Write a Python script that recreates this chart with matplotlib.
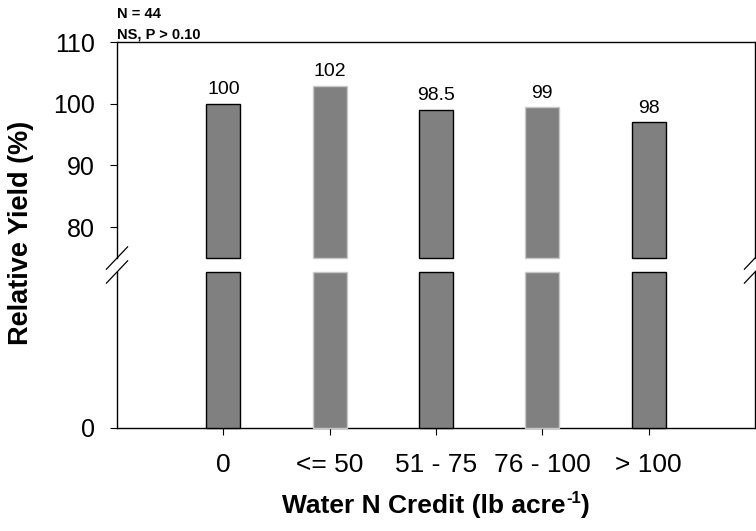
import numpy as np
import matplotlib
matplotlib.use("Agg")
import matplotlib.pyplot as plt
from matplotlib.lines import Line2D

plt.rcParams.update({
    "font.family": "Liberation Sans",
    "axes.linewidth": 1.0,
    "xtick.direction": "out",
    "ytick.direction": "out",
})

# ---- data ----
categories = ["0", "<= 50", "51 - 75", "76 - 100", "> 100"]
rel_yield = [100.0, 102.9, 99.0, 99.4, 97.0]
bar_labels = ["100", "102", "98.5", "99", "98"]
outlined = [True, False, True, False, True]

BAR = "#808080"
SOFT_EDGE = "#c8c8c8"
UP_LO, UP_HI = 75, 110
LOW_HI = 50

W, H = 756, 531
x = np.arange(1, len(categories) + 1)
edges = ["black" if o else SOFT_EDGE for o in outlined]

fig = plt.figure(figsize=(W / 100, H / 100), dpi=100)
ax_up = fig.add_axes([0.1548, 0.5141, 0.8439, 0.4068])
ax_lo = fig.add_axes([0.1548, 0.1940, 0.8439, 0.2938])

# upper segment (75-110)
ax_up.bar(x, [v - UP_LO for v in rel_yield], bottom=UP_LO, width=0.32,
          color=BAR, edgecolor=edges, linewidth=1.0, clip_on=False, zorder=3)
for xi, v, lbl in zip(x, rel_yield, bar_labels):
    ax_up.annotate(lbl, (xi, v), xytext=(0, 4), textcoords="offset points",
                   ha="center", va="bottom", fontsize=14)
ax_up.set_xlim(0, 6)
ax_up.set_ylim(UP_LO, UP_HI)
ax_up.set_yticks([80, 90, 100, 110])
ax_up.set_xticks([])
ax_up.spines["bottom"].set_visible(False)
ax_up.tick_params(axis="y", labelsize=18, length=5, pad=11)

# lower segment (0-...)
ax_lo.bar(x, [min(v, LOW_HI) for v in rel_yield], width=0.32,
          color=BAR, edgecolor=edges, linewidth=1.0, clip_on=False, zorder=3)
ax_lo.set_xlim(0, 6)
ax_lo.set_ylim(0, LOW_HI)
ax_lo.set_yticks([0])
ax_lo.set_xticks(x)
ax_lo.set_xticklabels(categories)
ax_lo.spines["top"].set_visible(False)
ax_lo.tick_params(axis="y", labelsize=18, length=5, pad=11)
ax_lo.tick_params(axis="x", labelsize=19, length=5, pad=13)

# break marks on both spines
for xf in (0.1548, 0.1548 + 0.8439):
    for yf in (0.5141, 0.4878):
        fig.add_artist(Line2D([xf - 0.014, xf + 0.014], [yf - 0.021, yf + 0.021],
                              color="black", linewidth=0.9))

# axis titles and notes
fig.text(0.028, 0.561, "Relative Yield (%)", rotation=90, ha="center", va="center",
         fontsize=19.5, fontweight="bold")

# x title with a small raised "-1"
r = fig.canvas.get_renderer()
base_y = 1 - 513 / H
parts = [("Water N Credit (lb acre", 19, 0.0), ("-1", 12, 0.018), (")", 19, 0.0)]
texts = [fig.text(0, base_y + dy, s, fontsize=fs, fontweight="bold", va="baseline")
         for s, fs, dy in parts]
widths = [t.get_window_extent(r).width / W for t in texts]
xpos = 436 / W - sum(widths) / 2
for t, w in zip(texts, widths):
    t.set_x(xpos)
    xpos += w

fig.text(0.1548, 0.966, "N = 44", fontsize=10.5, fontweight="bold", va="baseline")
fig.text(0.1548, 0.928, "NS, P > 0.10", fontsize=10.5, fontweight="bold", va="baseline")

plt.savefig("out.png", dpi=100)
plt.close()
